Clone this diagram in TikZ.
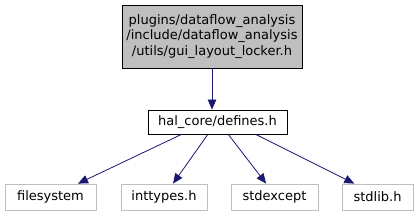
\documentclass[tikz,border=0pt]{standalone}
\usepackage{fontspec}
\setmainfont{DejaVu Sans}
\usepackage{tikz}
\usetikzlibrary{arrows.meta}

\begin{document}
\begin{tikzpicture}[x=1pt,y=-1pt,font=\fontsize{13}{15.5}\selectfont,
   file/.style={draw,rectangle,inner sep=0pt,line width=0.8pt,minimum height=#1},
   sysfile/.style={file=26pt,draw=black!25},
   dep/.style={draw=MidnightBlue,line width=0.8pt,-{Triangle[length=10pt,width=8.5pt]}}]
\definecolor{MidnightBlue}{HTML}{191970}
\useasboundingbox (0,0) rectangle (418,216);
\node[file=63pt,fill=black!25,minimum width=180pt,align=center] (locker) at (212,36.5)
   {plugins/dataflow\_analysis\\/include/dataflow\_analysis\\/utils/gui\_layout\_locker.h};
\node[file=24pt,minimum width=139pt] (defines) at (217.5,122) {hal\_core/defines.h};
\node[sysfile,minimum width=91pt] (filesystem) at (50.5,197) {filesystem};
\node[sysfile,minimum width=86pt] (inttypes) at (164,197) {inttypes.h};
\node[sysfile,minimum width=87pt] (stdexcept) at (274.5,197) {stdexcept};
\node[sysfile,minimum width=71pt] (stdlib) at (377.5,197) {stdlib.h};
\draw[dep] (locker) -- (locker |- defines.north);
\foreach \src/\dst/\tip in %
{199/filesystem/26,232/inttypes/56,311/stdexcept/122,342/stdlib/150} {
   \draw[dep] (defines.\src) -- (\dst.\tip);
}
\end{tikzpicture}
\end{document}
